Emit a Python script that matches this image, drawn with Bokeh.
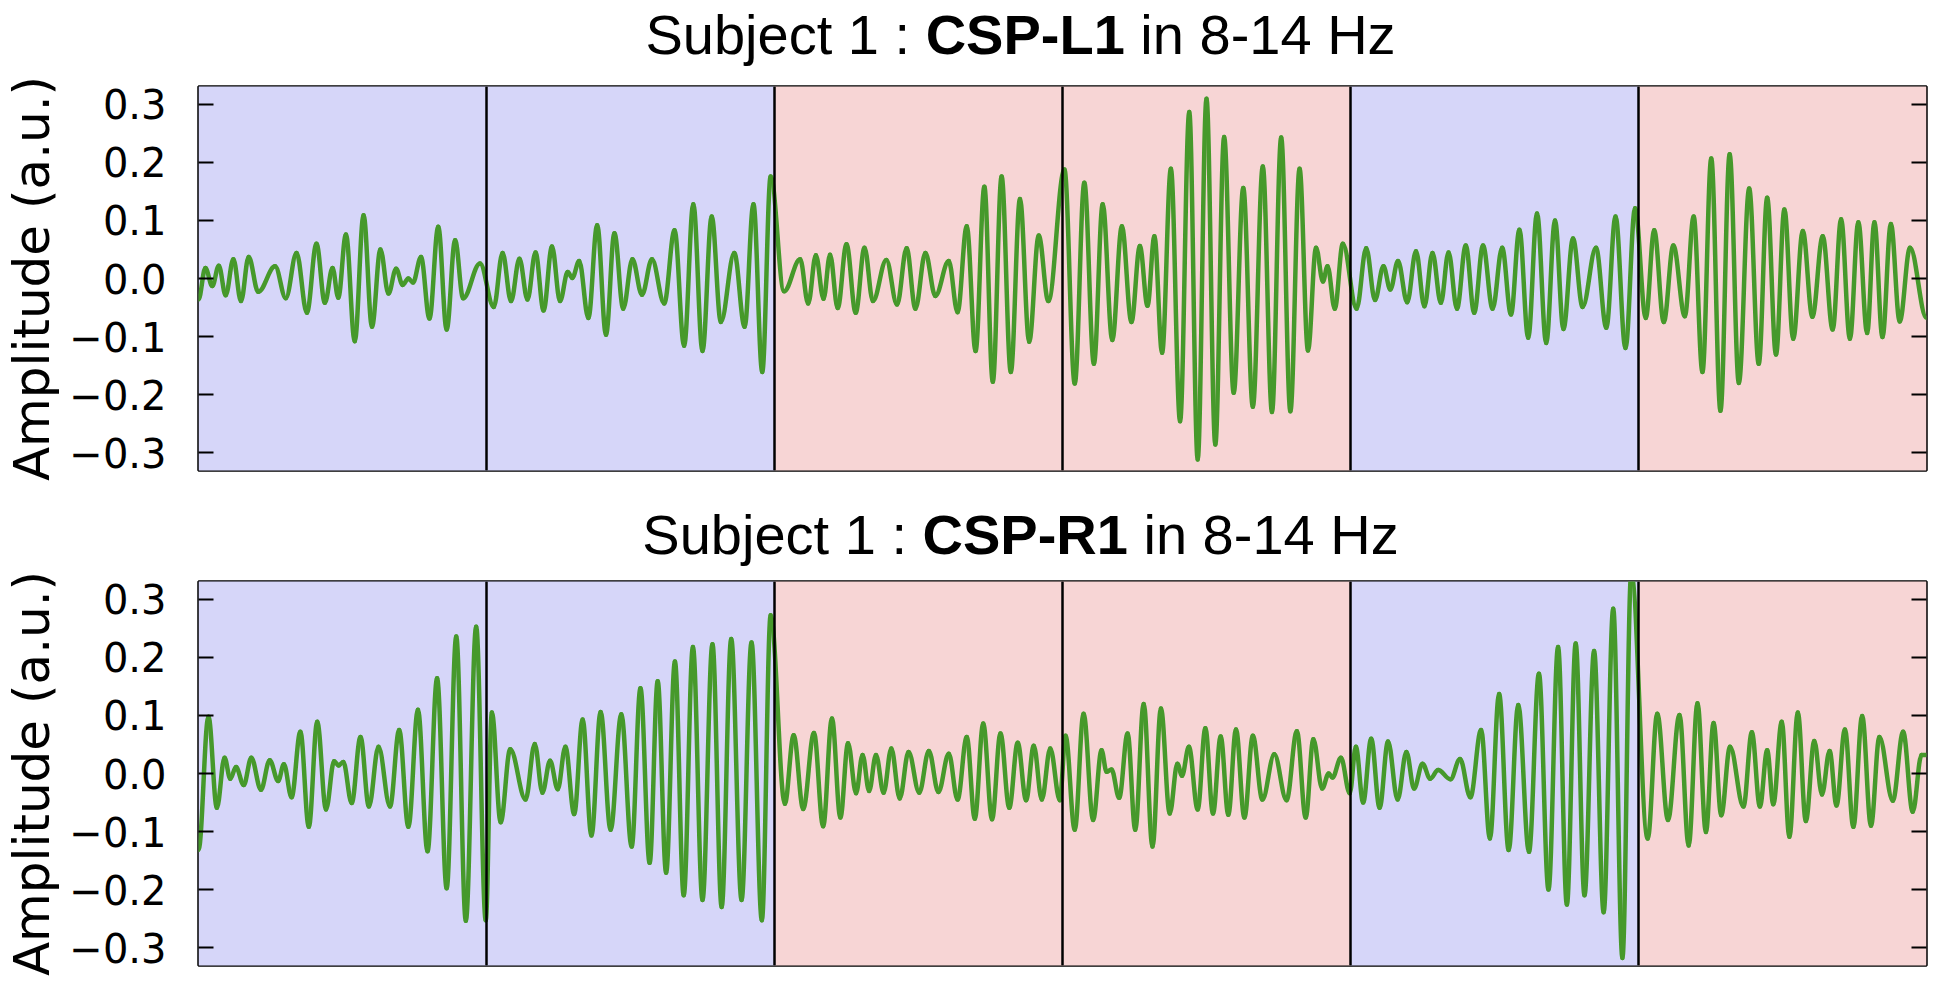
import numpy as np
from bokeh.plotting import figure
from bokeh.models import Range1d, LinearAxis, FixedTicker, CustomJSTickFormatter, Label, Span
from bokeh.layouts import column
from bokeh.embed import file_html
from bokeh.resources import INLINE

# ---------------- data ----------------
SAMPLES_PER_TRIAL = 752
trial_classes = ["left", "left", "right", "right", "left", "right"]
class_colors = {"left": "#d6d6f9", "right": "#f7d5d5"}
y_ticks = [-0.3, -0.2, -0.1, 0.0, 0.1, 0.2, 0.3]
y_limit = 0.331

title_L1 = ("Subject 1 :", "CSP-L1", "in 8-14 Hz")
title_R1 = ("Subject 1 :", "CSP-R1", "in 8-14 Hz")
y_label = "Amplitude (a.u.)"

# CSP-L1: extrema of the band-passed signal (sample within trial, amplitude)
l1_t1_time = [0, 18, 36, 53, 71, 91, 111, 131, 156, 200, 228, 256, 283, 308, 330, 350, 365, 385, 408, 431, 453, 475, 496, 516, 533, 548, 560, 581, 603, 626, 648, 670, 691, 735]
l1_t1_amp = [-0.036, 0.018, -0.013, 0.022, -0.029, 0.033, -0.039, 0.037, -0.023, 0.021, -0.034, 0.044, -0.059, 0.060, -0.042, 0.018, -0.033, 0.076, -0.108, 0.109, -0.083, 0.050, -0.026, 0.017, -0.011, 0.000, -0.007, 0.037, -0.069, 0.089, -0.088, 0.066, -0.034, 0.026]
l1_t2_time = [19, 42, 64, 86, 107, 128, 149, 171, 192, 212, 224, 242, 266, 289, 312, 334, 357, 381, 406, 432, 464, 491, 516, 540, 564, 588, 612, 647, 674, 697, 720, 742]
l1_t2_amp = [-0.049, 0.044, -0.039, 0.034, -0.036, 0.045, -0.055, 0.055, -0.039, 0.011, 0.001, 0.030, -0.068, 0.092, -0.097, 0.078, -0.052, 0.033, -0.028, 0.033, -0.043, 0.083, -0.116, 0.128, -0.125, 0.107, -0.075, 0.044, -0.083, 0.128, -0.161, 0.176]
l1_t3_time = [25, 67, 88, 108, 128, 145, 165, 188, 212, 235, 257, 292, 320, 345, 368, 394, 420, 455, 478, 502, 525, 548, 570, 593, 617, 641, 665, 690, 715]
l1_t3_amp = [-0.022, 0.033, -0.043, 0.040, -0.035, 0.041, -0.051, 0.059, -0.059, 0.053, -0.039, 0.032, -0.045, 0.052, -0.052, 0.044, -0.030, 0.030, -0.058, 0.090, -0.125, 0.158, -0.178, 0.176, -0.161, 0.137, -0.109, 0.074, -0.039]
l1_t4_time = [5, 32, 57, 82, 105, 130, 155, 180, 202, 222, 240, 260, 283, 307, 331, 353, 376, 399, 422, 447, 472, 497, 523, 547, 571, 595, 619, 641, 662, 680, 692, 711, 732]
l1_t4_amp = [0.188, -0.181, 0.165, -0.147, 0.128, -0.106, 0.090, -0.075, 0.056, -0.047, 0.073, -0.128, 0.189, -0.246, 0.287, -0.312, 0.310, -0.286, 0.244, -0.197, 0.156, -0.221, 0.193, -0.230, 0.243, -0.229, 0.189, -0.124, 0.053, -0.005, 0.021, -0.052, 0.060]
l1_t5_time = [16, 41, 64, 86, 104, 124, 148, 171, 193, 214, 236, 256, 278, 301, 323, 346, 371, 396, 419, 441, 464, 487, 511, 534, 556, 581, 606, 641, 668, 692, 718, 743]
l1_t5_amp = [-0.052, 0.052, -0.037, 0.021, -0.019, 0.030, -0.041, 0.047, -0.048, 0.044, -0.042, 0.045, -0.052, 0.057, -0.059, 0.057, -0.052, 0.053, -0.062, 0.084, -0.102, 0.112, -0.111, 0.100, -0.087, 0.069, -0.049, 0.053, -0.085, 0.107, -0.120, 0.121]
l1_t6_time = [19, 41, 66, 91, 121, 144, 167, 190, 214, 238, 262, 289, 314, 336, 359, 381, 404, 429, 454, 481, 507, 529, 552, 574, 597, 616, 637, 659, 682, 709, 752]
l1_t6_amp = [-0.068, 0.083, -0.075, 0.057, -0.065, 0.107, -0.161, 0.207, -0.228, 0.214, -0.180, 0.155, -0.147, 0.139, -0.131, 0.119, -0.104, 0.082, -0.066, 0.073, -0.088, 0.102, -0.104, 0.097, -0.094, 0.097, -0.101, 0.094, -0.074, 0.053, -0.068]

# CSP-R1
r1_t1_time = [0, 26, 48, 68, 83, 98, 118, 138, 163, 186, 208, 223, 243, 266, 288, 310, 333, 354, 366, 378, 400, 423, 445, 470, 500, 524, 548, 573, 598, 623, 648, 673, 698, 725, 750]
r1_t1_amp = [-0.132, 0.098, -0.059, 0.027, -0.009, 0.011, -0.020, 0.027, -0.028, 0.023, -0.013, 0.016, -0.041, 0.072, -0.092, 0.089, -0.062, 0.021, 0.014, 0.020, -0.051, 0.063, -0.057, 0.046, -0.057, 0.075, -0.092, 0.110, -0.134, 0.164, -0.198, 0.236, -0.254, 0.253, -0.253]
r1_t2_time = [14, 37, 62, 102, 126, 146, 166, 186, 206, 229, 251, 274, 298, 324, 352, 379, 402, 426, 447, 469, 492, 515, 539, 564, 590, 614, 639, 666, 692, 719, 742]
r1_t2_amp = [0.105, -0.084, 0.042, -0.045, 0.051, -0.033, 0.022, -0.027, 0.046, -0.070, 0.093, -0.107, 0.106, -0.097, 0.102, -0.126, 0.147, -0.154, 0.159, -0.171, 0.193, -0.210, 0.218, -0.218, 0.223, -0.230, 0.232, -0.218, 0.226, -0.253, 0.273]
r1_t3_time = [27, 50, 75, 103, 127, 150, 172, 192, 213, 230, 247, 265, 285, 305, 327, 350, 378, 403, 428, 455, 478, 502, 523, 545, 568, 590, 613, 635, 657, 677, 698, 720, 745]
r1_t3_amp = [-0.052, 0.066, -0.061, 0.070, -0.091, 0.095, -0.076, 0.052, -0.034, 0.032, -0.030, 0.032, -0.033, 0.043, -0.043, 0.037, -0.033, 0.039, -0.032, 0.034, -0.045, 0.063, -0.078, 0.086, -0.079, 0.069, -0.059, 0.053, -0.046, 0.048, -0.045, 0.043, -0.046]
r1_t4_time = [8, 32, 55, 80, 102, 115, 128, 148, 170, 190, 212, 235, 257, 280, 300, 312, 330, 353, 373, 393, 413, 433, 453, 475, 497, 522, 553, 585, 612, 635, 655, 678, 695, 705, 727, 750]
r1_t4_amp = [0.065, -0.097, 0.103, -0.080, 0.040, 0.003, 0.007, -0.042, 0.069, -0.097, 0.120, -0.126, 0.112, -0.069, 0.017, -0.004, 0.046, -0.062, 0.078, -0.069, 0.064, -0.071, 0.076, -0.076, 0.065, -0.045, 0.033, -0.046, 0.073, -0.076, 0.059, -0.026, 0.000, -0.007, 0.027, -0.034]
r1_t5_time = [14, 33, 54, 76, 98, 123, 146, 166, 188, 208, 229, 261, 286, 313, 341, 364, 388, 413, 438, 466, 492, 517, 542, 565, 588, 611, 636, 661, 686, 710, 733]
r1_t5_amp = [0.046, -0.050, 0.060, -0.059, 0.055, -0.045, 0.037, -0.026, 0.017, -0.009, 0.006, -0.010, 0.025, -0.041, 0.075, -0.112, 0.137, -0.132, 0.118, -0.135, 0.172, -0.200, 0.218, -0.226, 0.224, -0.210, 0.211, -0.239, 0.284, -0.318, 0.345]
r1_t6_time = [24, 49, 77, 107, 131, 154, 176, 196, 216, 239, 274, 296, 317, 336, 352, 374, 394, 416, 437, 459, 479, 499, 517, 539, 561, 584, 607, 629, 664, 691, 716, 739, 752]
r1_t6_amp = [-0.112, 0.103, -0.080, 0.101, -0.124, 0.121, -0.101, 0.087, -0.072, 0.046, -0.057, 0.071, -0.057, 0.040, -0.053, 0.089, -0.109, 0.105, -0.082, 0.056, -0.036, 0.039, -0.055, 0.076, -0.092, 0.099, -0.090, 0.063, -0.047, 0.072, -0.066, 0.032, 0.032]

L1_times = [l1_t1_time, l1_t2_time, l1_t3_time, l1_t4_time, l1_t5_time, l1_t6_time]
L1_amps = [l1_t1_amp, l1_t2_amp, l1_t3_amp, l1_t4_amp, l1_t5_amp, l1_t6_amp]
R1_times = [r1_t1_time, r1_t2_time, r1_t3_time, r1_t4_time, r1_t5_time, r1_t6_time]
R1_amps = [r1_t1_amp, r1_t2_amp, r1_t3_amp, r1_t4_amp, r1_t5_amp, r1_t6_amp]

# ---------------- style ----------------
LINE_COLOR = "#46992b"
TITLE_FONT = "Liberation Sans"
TITLE_SIZE = 56
AXIS_FONT = "DejaVu Sans"
FIG_W = 1932
BORDER_L = 198
BORDER_R = 6
TITLE_CENTER = 822  # px from the frame's left edge

# Arial / Liberation Sans advance widths (1/1000 em) for title layout
ARIAL = {"S": 667, "u": 556, "b": 556, "j": 222, "e": 556, "c": 500, "t": 278, " ": 278,
         "1": 556, ":": 278, "i": 222, "n": 556, "8": 556, "-": 333, "4": 556, "H": 722, "z": 500}
ARIAL_BOLD = {"C": 722, "S": 667, "P": 667, "-": 333, "L": 611, "R": 722, "1": 556}


def text_w(s, table):
    return sum(table[c] for c in s) / 1000.0 * TITLE_SIZE


def make_title(title_parts, height, lift):
    t = figure(width=FIG_W, height=height, x_range=Range1d(0, 1), y_range=Range1d(0, 1),
               x_axis_type=None, y_axis_type=None, toolbar_location=None,
               output_backend="svg", min_border_left=BORDER_L, min_border_right=BORDER_R,
               min_border_top=0, min_border_bottom=0)
    t.title.visible = False
    t.outline_line_color = None
    t.background_fill_color = "white"
    t.border_fill_color = "white"
    a, b, c = title_parts
    wa = text_w(a, ARIAL)
    wb = text_w(b, ARIAL_BOLD)
    wc = text_w(c, ARIAL)
    sp = text_w(" ", ARIAL)
    total = wa + sp + wb + sp + wc
    x0 = TITLE_CENTER - total / 2.0
    for txt, off, style in [(a, x0, "normal"), (b, x0 + wa + sp, "bold"),
                            (c, x0 + wa + sp + wb + sp, "normal")]:
        t.add_layout(Label(x=0, y=0, x_units="data", y_units="data",
                           x_offset=off, y_offset=lift, text=txt,
                           text_font=TITLE_FONT, text_font_size=f"{TITLE_SIZE}px",
                           text_font_style=style, text_color="black",
                           text_align="left", text_baseline="alphabetic"))
    return t


def make_panel(times, amps, height, border_top, border_bottom):
    n_trials = len(trial_classes)
    p = figure(width=FIG_W, height=height,
               x_range=Range1d(0, n_trials * SAMPLES_PER_TRIAL),
               y_range=Range1d(-y_limit, y_limit),
               x_axis_type=None, y_axis_type=None,
               toolbar_location=None, output_backend="svg",
               min_border_left=BORDER_L, min_border_right=BORDER_R,
               min_border_top=border_top, min_border_bottom=border_bottom)
    p.title.visible = False
    p.background_fill_color = "white"
    p.border_fill_color = "white"
    p.outline_line_color = "black"
    p.outline_line_width = 2.5
    p.outline_line_alpha = 1.0

    # trial backgrounds
    lefts = [i * SAMPLES_PER_TRIAL for i in range(n_trials)]
    rights = [(i + 1) * SAMPLES_PER_TRIAL for i in range(n_trials)]
    cols = [class_colors[c] for c in trial_classes]
    p.quad(left=lefts, right=rights, bottom=-1, top=1, fill_color=cols, line_color=None)

    # signal (extrema joined by smooth half-wave curves)
    xs, ys = [], []
    for i, (tt, aa) in enumerate(zip(times, amps)):
        xs.extend([i * SAMPLES_PER_TRIAL + t for t in tt])
        ys.extend(aa)
    xs = np.array(xs, dtype=float)
    ys = np.array(ys, dtype=float)
    dx = xs[1:] - xs[:-1]
    k = 0.3642
    p.bezier(x0=xs[:-1], y0=ys[:-1], x1=xs[1:], y1=ys[1:],
             cx0=xs[:-1] + k * dx, cy0=ys[:-1], cx1=xs[1:] - k * dx, cy1=ys[1:],
             line_color=LINE_COLOR, line_width=4.5, line_cap="round")

    # trial separators
    for i in range(1, n_trials):
        p.add_layout(Span(location=i * SAMPLES_PER_TRIAL, dimension="height",
                          line_color="black", line_width=2.5))

    fmt = CustomJSTickFormatter(code="return (tick < -1e-9 ? '\u2212' : '') + Math.abs(tick).toFixed(1);")
    left = LinearAxis(ticker=FixedTicker(ticks=y_ticks), formatter=fmt,
                      axis_label=y_label,
                      axis_label_text_font=AXIS_FONT, axis_label_text_font_size="50px",
                      axis_label_text_font_style="normal", axis_label_text_color="black",
                      axis_label_standoff=5,
                      major_label_text_font=AXIS_FONT, major_label_text_font_size="40px",
                      major_label_text_color="black", major_label_standoff=32,
                      major_tick_in=15, major_tick_out=0, major_tick_line_width=2,
                      major_tick_line_color="black", minor_tick_line_color=None,
                      axis_line_color=None)
    p.add_layout(left, "left")
    right = LinearAxis(ticker=FixedTicker(ticks=y_ticks),
                       formatter=CustomJSTickFormatter(code="return '';"),
                       major_label_text_color=None, major_label_standoff=0,
                       major_tick_in=15, major_tick_out=0, major_tick_line_width=2,
                       major_tick_line_color="black", minor_tick_line_color=None,
                       axis_line_color=None)
    p.add_layout(right, "right")
    return p


# vertical layout: title strip, panel, title strip, panel
t1 = make_title(title_L1, height=66, lift=32)
p1 = make_panel(L1_times, L1_amps, height=424, border_top=20, border_bottom=20)
t2 = make_title(title_R1, height=76, lift=32)
p2 = make_panel(R1_times, R1_amps, height=422, border_top=15, border_bottom=23)

layout = column(t1, p1, t2, p2, spacing=0)
open("out.html", "w").write(file_html(layout, INLINE))
